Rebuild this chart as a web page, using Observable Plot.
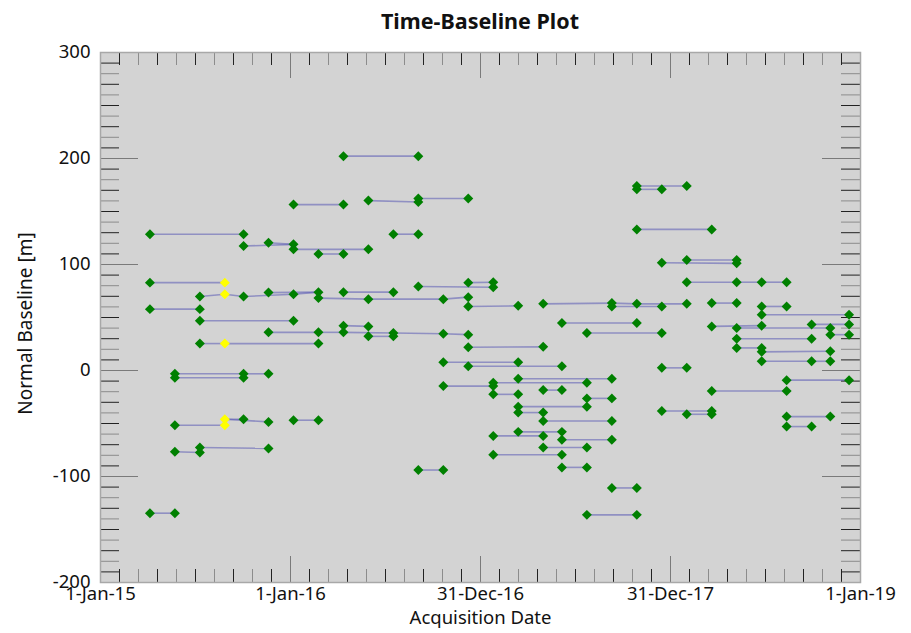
<!DOCTYPE html>
<html><head><meta charset="utf-8">
<script src="https://cdn.jsdelivr.net/npm/d3@7"></script>
<script src="https://cdn.jsdelivr.net/npm/@observablehq/plot@0.6"></script>
<style>
body{margin:0;background:#fff;font-family:"Noto Sans",sans-serif;}
#title{position:absolute;z-index:2;left:100px;width:760px;top:0;height:42px;line-height:42px;text-align:center;font-weight:bold;font-size:21.5px;color:#111;}
#chart{position:absolute;z-index:1;left:0;top:0;}
</style></head><body>
<div id="title">Time-Baseline Plot</div>
<div id="chart"></div>
<script>
// Acquisition dates (columns)
const acqDates = ["2015-04-06","2015-05-24","2015-07-11","2015-08-28","2015-10-03","2015-11-20",
  "2016-01-07","2016-02-24","2016-04-12","2016-05-30","2016-07-17","2016-09-03","2016-10-21",
  "2016-12-08","2017-01-25","2017-03-14","2017-05-01","2017-06-06","2017-07-24","2017-09-10",
  "2017-10-28","2017-12-15","2018-02-01","2018-03-21","2018-05-08","2018-06-25","2018-08-12",
  "2018-09-29","2018-11-04","2018-12-10"];
// Highlighted (yellow) acquisition date
const highlightDate = "2015-08-28";
// Connections: start date index, end date index, start baseline, end baseline [m]
const pairStart = [8,6,9,11,0,10,4,5,6,7,0,2,3,4,5,6,7,9,12,8,11,13,13,0,2,5,8,7,8,9,10,12,2,3,13,12,13,1,1,4,12,1,3,3,6,1,2,11,0,
  16,19,19,20,23,25,25,20,20,20,21,22,22,24,25,17,18,15,14,14,16,18,15,15,16,14,15,17,16,14,17,19,18,21,21,22,23,26,26,26,23,24,27,28,24,24,25,25,27];
const pairEnd = [11,8,11,13,4,11,6,6,9,8,3,3,4,6,7,7,9,12,13,10,14,14,15,2,6,7,9,8,10,10,12,13,3,7,16,15,17,4,4,5,14,3,4,5,7,2,5,12,1,
  19,20,21,22,24,26,29,22,21,23,24,24,24,25,26,20,21,19,18,15,17,19,18,16,19,16,17,19,18,17,18,20,20,22,23,23,26,29,28,27,25,28,29,29,27,25,28,27,28];
const baseStart = [202.2,156.5,160.3,162.2,128.6,128.6,117.4,120.5,114.3,109.9,82.9,69.8,72.0,69.8,73.5,72.0,68.3,67.3,67.3,73.9,79.2,82.9,60.4,57.9,46.9,36.0,42.3,36.0,36.0,32.2,35.4,34.7,25.4,25.4,21.9,7.8,4.0,-3.1,-6.9,-3.1,-14.7,-51.6,-46.0,-46.0,-46.9,-76.7,-72.6,-93.9,-134.6,
  62.9,63.6,60.4,62.9,63.6,60.4,52.6,174.0,170.9,133.1,101.7,104.2,83.3,83.3,83.3,44.8,35.4,-7.8,-11.5,-22.5,-18.5,-26.3,-34.1,-39.7,-47.6,-61.7,-57.9,-65.4,-72.6,-79.5,-91.4,-110.8,-136.2,2.5,-38.2,-41.3,-19.4,-9.1,-43.5,-52.9,41.6,40.1,43.5,33.8,30.0,21.3,17.6,8.7,8.7];
const baseEnd = [202.2,156.5,159.0,162.2,128.6,128.6,119.0,119.0,114.3,109.9,82.9,72.0,69.8,72.0,73.9,73.9,67.3,67.3,69.2,73.9,78.6,83.3,61.0,57.9,46.9,36.0,41.6,36.0,35.4,32.2,34.7,33.8,25.4,25.4,22.3,7.8,4.0,-3.1,-6.9,-3.1,-14.7,-51.6,-46.0,-48.5,-46.9,-77.3,-73.5,-93.9,-134.6,
  63.6,62.9,60.4,62.9,63.6,60.4,52.6,174.0,170.9,133.1,101.1,104.2,83.3,83.3,83.3,44.8,35.4,-7.8,-11.5,-22.5,-18.5,-26.3,-34.1,-39.7,-47.6,-61.7,-57.9,-65.4,-72.6,-79.5,-91.4,-110.8,-136.2,2.5,-38.2,-41.3,-19.4,-9.1,-43.5,-52.9,42.3,40.1,43.5,33.8,30.0,21.3,18.1,8.7,8.7];
// Axis tick labels
const xTickLabels = ["1-Jan-15","1-Jan-16","31-Dec-16","31-Dec-17","1-Jan-19"];
const yTickValues = [300,200,100,0,-100,-200];
const xLabel = "Acquisition Date";
const yLabel = "Normal Baseline [m]";

const parse = s => new Date(s + "T00:00:00Z");
const links = pairStart.map((s, i) => ({
  x1: parse(acqDates[s]), x2: parse(acqDates[pairEnd[i]]), y1: baseStart[i], y2: baseEnd[i]
}));
const seen = new Set();
const points = [];
pairStart.forEach((s, i) => {
  for (const [d, b] of [[acqDates[s], baseStart[i]], [acqDates[pairEnd[i]], baseEnd[i]]]) {
    const k = d + "|" + b;
    if (!seen.has(k)) { seen.add(k); points.push({date: parse(d), base: b, hl: d === highlightDate}); }
  }
});

const W = 911, H = 633, mL = 100, mR = 51, mT = 52, mB = 51;
const pw = W - mL - mR, ph = H - mT - mB;
const t0 = Date.UTC(2015,0,1), t1 = Date.UTC(2019,0,1);
const xMajor = d3.range(5).map(k => new Date(t0 + k * (t1 - t0) / 4));
const xMinor = d3.range(1, 40).filter(i => i % 10).map(i => ({d: new Date(t0 + i * (t1 - t0) / 40), dark: i % 2 === 1}));
const xMajorInner = xMajor.slice(1, 4);
const yMinor = d3.range(-190, 300, 10).filter(v => v % 100 !== 0).map(v => ({v, dark: Math.abs(v / 10) % 2 === 1}));
const yMajorInner = [200, 100, 0, -100];

const dark = "#222", light = "#8c8c8c", majorC = "#7a7a7a";
const chart = Plot.plot({
  width: W, height: H, marginLeft: mL, marginRight: mR, marginTop: mT, marginBottom: mB,
  style: {fontFamily: "'Noto Sans', sans-serif", background: "transparent"},
  x: {type: "utc", domain: [new Date(t0), new Date(t1)], axis: null},
  y: {domain: [-200, 300], axis: null},
  marks: [
    Plot.frame({fill: "#d3d3d3"}),
    // x minor ticks bottom & top
    Plot.tickX(xMinor, {x: "d", stroke: d => d.dark ? dark : light, insetTop: ph - 13}),
    Plot.tickX(xMinor, {x: "d", stroke: d => d.dark ? dark : light, insetBottom: ph - 13}),
    Plot.tickX(xMajorInner, {x: d => d, stroke: majorC, insetTop: ph - 26}),
    Plot.tickX(xMajorInner, {x: d => d, stroke: majorC, insetBottom: ph - 26}),
    // y minor ticks left & right
    Plot.tickY(yMinor, {y: "v", stroke: d => d.dark ? dark : light, insetRight: pw - 19}),
    Plot.tickY(yMinor, {y: "v", stroke: d => d.dark ? dark : light, insetLeft: pw - 19}),
    Plot.tickY(yMajorInner, {y: d => d, stroke: majorC, insetRight: pw - 38}),
    Plot.tickY(yMajorInner, {y: d => d, stroke: majorC, insetLeft: pw - 38}),
    Plot.frame({stroke: "#a8a8a8", strokeWidth: 1.5}),
    // connections
    Plot.link(links, {x1: "x1", y1: "y1", x2: "x2", y2: "y2", stroke: "#5a5ab4", strokeOpacity: 0.55, strokeWidth: 1.6}),
    // acquisitions
    Plot.dot(points, {x: "date", y: "base", symbol: "diamond2", r: 4.5, fill: d => d.hl ? "#ffff00" : "#008000", stroke: "none"}),
    // tick labels
    Plot.text(xMajor, {x: d => d, text: (d, i) => xTickLabels[i], frameAnchor: "bottom", textAnchor: "middle", dy: 17, fontSize: 18.5, fill: "#111"}),
    Plot.text(yTickValues, {y: d => d, text: d => String(d), frameAnchor: "left", dx: -10, textAnchor: "end", fontSize: 18.5, fill: "#111"}),
    Plot.text([xLabel], {text: d => d, frameAnchor: "bottom", textAnchor: "middle", dy: 41, fontSize: 18.5, fill: "#111"}),
    Plot.text([yLabel], {text: d => d, frameAnchor: "left", textAnchor: "middle", dx: -75, dy: 6, rotate: -90, fontSize: 19, fill: "#111"})
  ]
});
document.getElementById("chart").appendChild(chart);
</script>
</body></html>
